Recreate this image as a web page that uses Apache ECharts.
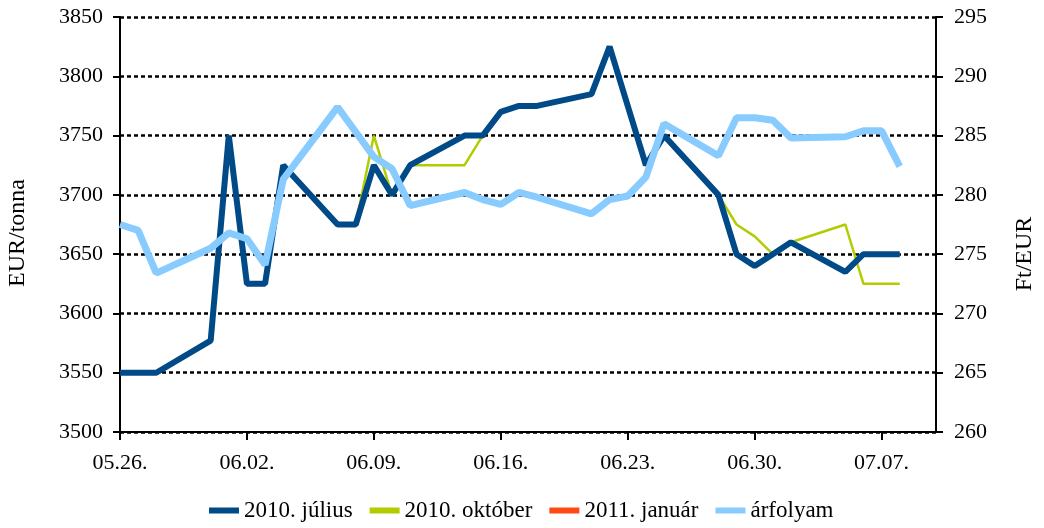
<!DOCTYPE html>
<html>
<head>
<meta charset="utf-8">
<script src="https://cdn.jsdelivr.net/npm/echarts@6/dist/echarts.min.js"></script>
<style>html,body{margin:0;padding:0;background:#fff}#c{width:1044px;height:528px}</style>
</head>
<body>
<div id="c"></div>
<script>
const dates = ["05.26.","05.27.","05.28.","05.29.","05.30.","05.31.","06.01.","06.02.","06.03.","06.04.","06.05.","06.06.","06.07.","06.08.","06.09.","06.10.","06.11.","06.12.","06.13.","06.14.","06.15.","06.16.","06.17.","06.18.","06.19.","06.20.","06.21.","06.22.","06.23.","06.24.","06.25.","06.26.","06.27.","06.28.","06.29.","06.30.","07.01.","07.02.","07.03.","07.04.","07.05.","07.06.","07.07.","07.08.","07.09.","07.10."];
const julius = [3550,3550,3550,null,null,3577,3750,3625,3625,3725,null,null,3675,3675,3725,3700,3725,null,null,3750,3750,3770,3775,3775,null,null,3785,3825,3775,3725,3750,null,null,3700,3650,3640,3650,3660,null,null,3635,3650,3650,3650,null,null];
const oktober = [3550,3550,3550,null,null,3577,3750,3625,3625,3725,null,null,3675,3675,3750,3700,3725,null,null,3725,3750,3770,3775,3775,null,null,3785,3825,3775,3725,3750,null,null,3700,3675,3665,3650,3660,null,null,3675,3625,3625,3625,null,null];
const januar = [3550,3550,3550,null,null,3577,3750,3625,3625,3725,null,null,3675,3675,3725,3700,3725,null,null,3750,3750,3770,3775,3775,null,null,3785,3825,3775,3725,3750,null,null,3700,3650,3640,3650,3660,null,null,3635,3650,3650,3650,null,null];
const arfolyam = [277.5,277.0,273.4,null,null,275.5,276.8,276.3,274.1,281.3,null,null,287.4,285.3,283.2,282.2,279.1,null,null,280.2,279.6,279.2,280.2,279.8,null,null,278.4,279.6,279.9,281.5,286.0,null,null,283.3,286.5,286.5,286.3,284.8,null,null,284.9,285.4,285.4,282.4,null,null];
const seriesNames = ["2010. július","2010. október","2011. január","árfolyam"];
const leftAxisTitle = "EUR/tonna";
const rightAxisTitle = "Ft/EUR";

const font = '"Liberation Serif", "DejaVu Serif", serif';
const chart = echarts.init(document.getElementById('c'), null, {renderer: 'canvas'});
const axisLine = {show: true, lineStyle: {color: '#000', width: 2}};
chart.setOption({
  animation: false,
  textStyle: {fontFamily: font},
  grid: {left: 120, right: 108, top: 17, bottom: 96, containLabel: false},
  legend: {
    bottom: 1, left: 204,
    icon: 'rect',
    itemWidth: 30, itemHeight: 6, itemGap: 17,
    textStyle: {fontFamily: font, fontSize: 23, color: '#000'},
    data: seriesNames
  },
  graphic: [
    {type: 'text', x: 18, y: 233, rotation: Math.PI / 2,
      style: {text: leftAxisTitle, font: '24px ' + font, fill: '#000', align: 'center', verticalAlign: 'middle'}},
    {type: 'text', x: 1025, y: 254, rotation: Math.PI / 2,
      style: {text: rightAxisTitle, font: '24px ' + font, fill: '#000', align: 'center', verticalAlign: 'middle'}}
  ],
  xAxis: {
    type: 'category', data: dates, boundaryGap: false,
    axisLine: axisLine,
    axisTick: {show: true, interval: 6, length: 8, lineStyle: {color: '#000', width: 2}},
    axisLabel: {interval: 6, margin: 20, fontFamily: font, fontSize: 22, color: '#000'},
    splitLine: {show: false}
  },
  yAxis: [{
    type: 'value', min: 3500, max: 3850, interval: 50, position: 'left',
    axisLine: axisLine,
    axisTick: {show: true, length: 7, lineStyle: {color: '#000', width: 2}},
    axisLabel: {margin: 17, fontFamily: font, fontSize: 22, color: '#000', formatter: v => String(v)},
    splitLine: {show: true, lineStyle: {color: '#000', width: 2.5, type: [4, 3]}}
  }, {
    type: 'value', min: 260, max: 295, interval: 5, position: 'right',
    axisLine: axisLine,
    axisTick: {show: true, length: 7, lineStyle: {color: '#000', width: 2}},
    axisLabel: {margin: 18, fontFamily: font, fontSize: 22, color: '#000', formatter: v => String(v)},
    splitLine: {show: false}
  }],
  series: [
    {name: seriesNames[2], type: 'line', data: januar, connectNulls: true, showSymbol: false, symbol: 'none', z: 1,
      itemStyle: {color: '#FF4A14'}, lineStyle: {color: '#FF4A14', width: 3}},
    {name: seriesNames[1], type: 'line', data: oktober, connectNulls: true, showSymbol: false, symbol: 'none', z: 2,
      itemStyle: {color: '#B3CC00'}, lineStyle: {color: '#B3CC00', width: 2.5}},
    {name: seriesNames[0], type: 'line', data: julius, connectNulls: true, showSymbol: false, symbol: 'none', z: 3,
      itemStyle: {color: '#004A88'}, lineStyle: {color: '#004A88', width: 6}},
    {name: seriesNames[3], type: 'line', yAxisIndex: 1, data: arfolyam, connectNulls: true, showSymbol: false, symbol: 'none', z: 4,
      itemStyle: {color: '#87CBFF'}, lineStyle: {color: '#87CBFF', width: 7}}
  ]
});
</script>
</body>
</html>
